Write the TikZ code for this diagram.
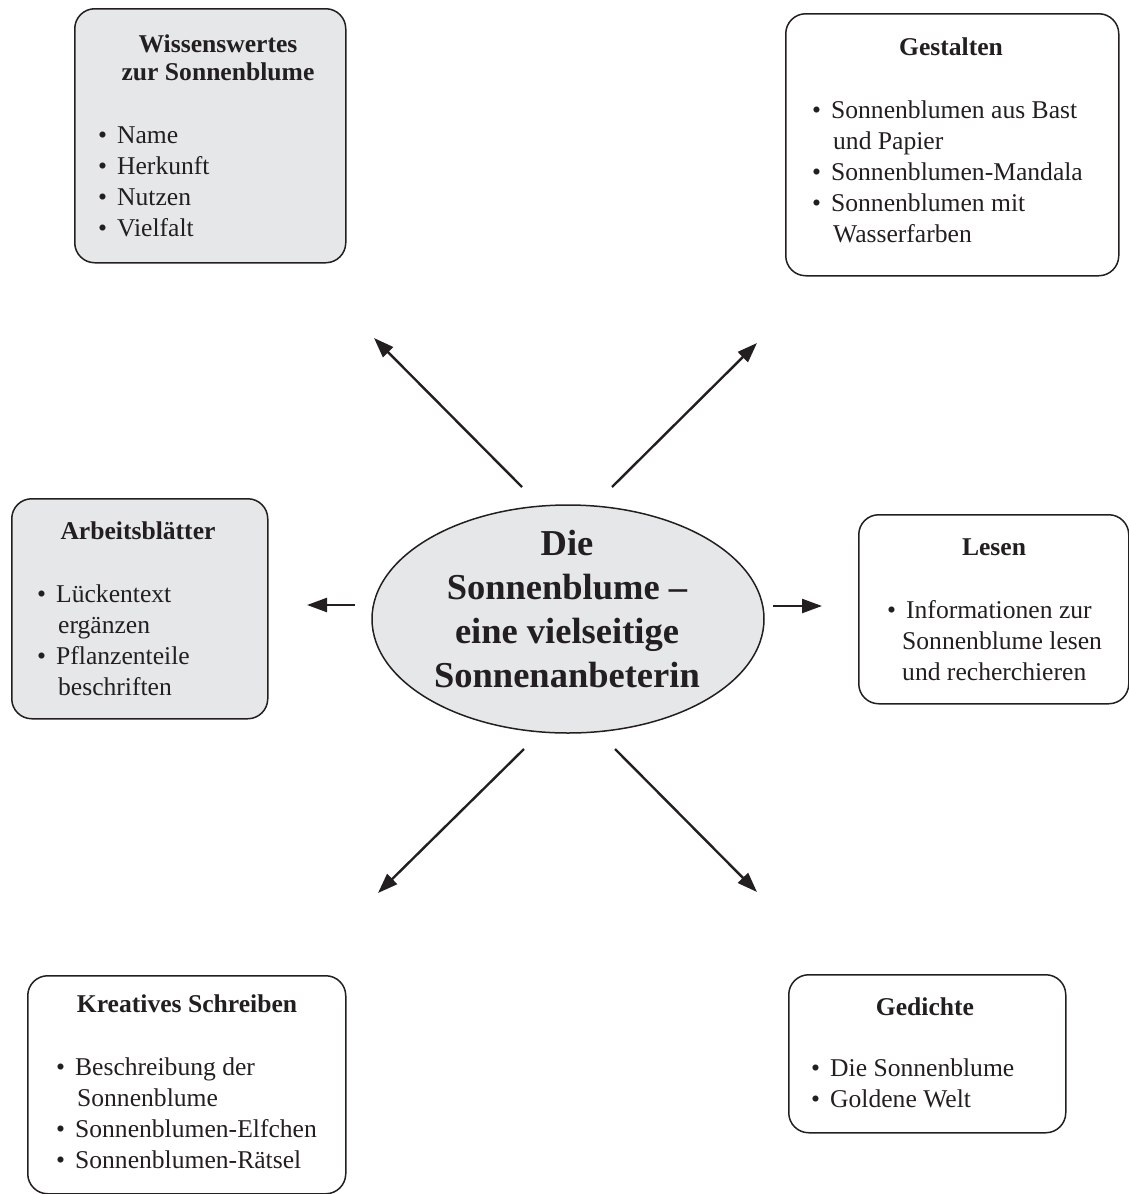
\documentclass[tikz,border=0pt]{standalone}
\usepackage{fontspec}
\setmainfont{Liberation Serif}
\usetikzlibrary{arrows.meta,shapes.geometric}
\definecolor{boxgray}{HTML}{E6E7E8}
\definecolor{ink}{HTML}{231F20}
\newcommand{\blist}[1]{{\fontsize{25.6}{31}\selectfont\begin{tabular}[t]{@{}l@{\hspace{10pt}}l@{}}#1\end{tabular}}}
\newcommand{\btitle}[1]{{\fontsize{25.6}{28}\selectfont\bfseries\begin{tabular}[t]{@{}c@{}}#1\end{tabular}}}
\newcommand{\cont}{\hspace{2pt}}
\tikzset{
  box/.style={draw=ink, line width=1.5pt, rounded corners=20pt, inner sep=0pt, anchor=north west},
  graybox/.style={box, fill=boxgray},
  ttl/.style={anchor=base, inner sep=0pt, text=ink},
  lst/.style={anchor=base west, inner sep=0pt, text=ink},
  arr/.style={draw=ink, line width=2.4pt, -{Triangle[length=20pt,width=14pt]}}
}
\begin{document}
\begin{tikzpicture}[x=1pt,y=-1pt]
\useasboundingbox (0,0) rectangle (1129,1194);

% boxes
\node[graybox, minimum width=271pt, minimum height=254pt] (wiss) at (74,8) {};
\node[box, minimum width=333pt, minimum height=262pt] (gest) at (785,13) {};
\node[graybox, minimum width=256pt, minimum height=220pt] (arb) at (11,498) {};
\node[box, minimum width=270pt, minimum height=189pt] (les) at (858,514) {};
\node[box, minimum width=318pt, minimum height=218pt] (krea) at (27,975) {};
\node[box, minimum width=277pt, minimum height=158pt] (ged) at (788,974) {};

% centre ellipse
\node[ellipse, draw=ink, line width=1.5pt, fill=boxgray, minimum width=392pt, minimum height=228pt, inner sep=0pt] (core) at (568,619) {};
\node[anchor=base, inner sep=0pt, text=ink] (coretext) at (567,555)
  {{\fontsize{36.5}{44.2}\selectfont\bfseries\begin{tabular}[t]{@{}c@{}}Die\\Sonnenblume –\\eine vielseitige\\Sonnenanbeterin\end{tabular}}};

% titles
\node[ttl] (wisst) at (218,52) {\btitle{Wissenswertes\\zur Sonnenblume}};
\node[ttl] (gestt) at (951,55) {\btitle{Gestalten}};
\node[ttl] (arbt) at (138,539) {\btitle{Arbeitsblätter}};
\node[ttl] (lest) at (994,555) {\btitle{Lesen}};
\node[ttl] (kreat) at (187,1012) {\btitle{Kreatives Schreiben}};
\node[ttl] (gedt) at (925,1015) {\btitle{Gedichte}};

% lists
\node[lst] (wissl) at (98,143) {\blist{• & Name\\ • & Herkunft\\ • & Nutzen\\ • & Vielfalt}};
\node[lst] (gestl) at (812,118) {\blist{• & Sonnenblumen aus Bast\\ & \cont und Papier\\ • & Sonnenblumen-Mandala\\ • & Sonnenblumen mit\\ & \cont Wasserfarben}};
\node[lst] (arbl) at (37,602) {\blist{• & Lückentext\\ & \cont ergänzen\\ • & Pflanzenteile\\ & \cont beschriften}};
\node[lst] (lesl) at (887,618) {\blist{• & Informationen zur\\ \multicolumn{2}{@{}l@{}}{\hspace{15pt}Sonnenblume lesen}\\ \multicolumn{2}{@{}l@{}}{\hspace{15pt}und recherchieren}}};
\node[lst] (kreal) at (56,1075) {\blist{• & Beschreibung der\\ & \cont Sonnenblume\\ • & Sonnenblumen-Elfchen\\ • & Sonnenblumen-Rätsel}};
\node[lst] (gedl) at (811,1076) {\blist{• & Die Sonnenblume\\ • & Goldene Welt}};

% arrow end points
\coordinate (nwA) at (522,487); \coordinate (nwB) at (374,338);
\coordinate (neA) at (612,487); \coordinate (neB) at (757,343);
\coordinate (wA) at (355,605);  \coordinate (wB) at (307,605);
\coordinate (eA) at (773,606);  \coordinate (eB) at (822,606);
\coordinate (swA) at (524,749); \coordinate (swB) at (378,893);
\coordinate (seA) at (615,749); \coordinate (seB) at (757,892);

\draw[arr] (nwA) -- (nwB);
\draw[arr] (neA) -- (neB);
\draw[arr] (wA) -- (wB);
\draw[arr] (eA) -- (eB);
\draw[arr] (swA) -- (swB);
\draw[arr] (seA) -- (seB);
\end{tikzpicture}
\end{document}
